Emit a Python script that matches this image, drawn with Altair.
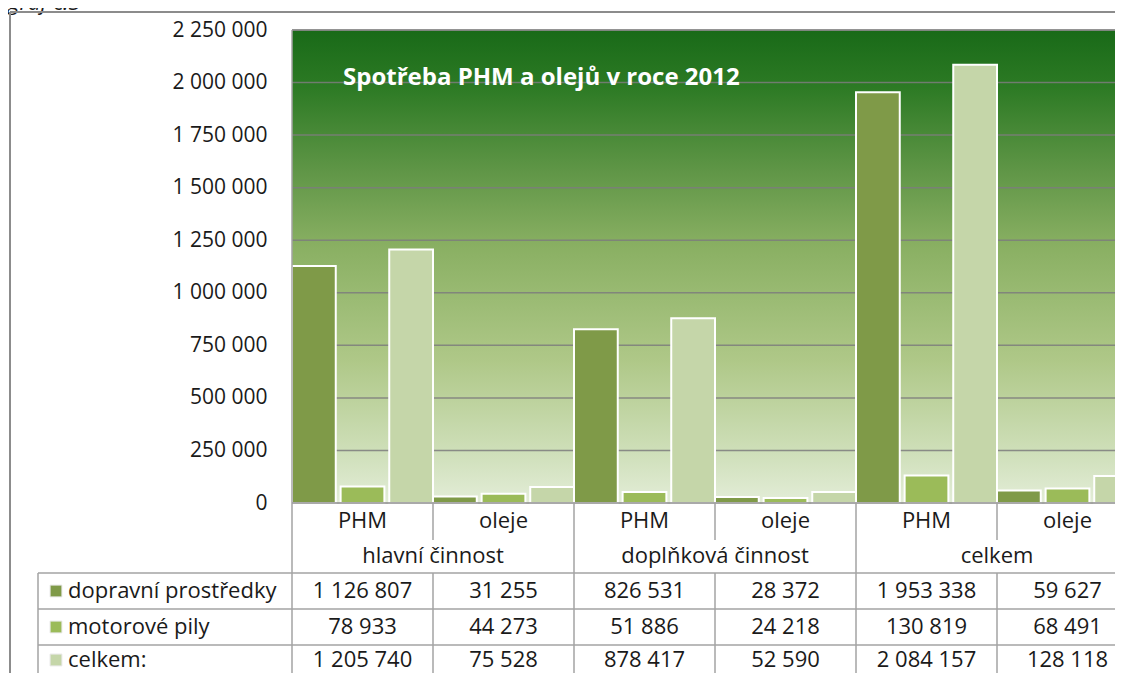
import altair as alt
import pandas as pd

# ---------------- data ----------------
groups = ["hlavní činnost", "doplňková činnost", "celkem"]
subcats = ["PHM", "oleje"]
series = ["dopravní prostředky", "motorové pily", "celkem:"]
dopravni = [1126807, 31255, 826531, 28372, 1953338, 59627]
pily = [78933, 44273, 51886, 24218, 130819, 68491]
celkem = [1205740, 75528, 878417, 52590, 2084157, 128118]
y_ticks = [0, 250000, 500000, 750000, 1000000, 1250000, 1500000, 1750000, 2000000, 2250000]
colors = ["#7f9a48", "#9bbb59", "#c5d6a9"]
title_text = "Spotřeba PHM a olejů v roce 2012"
caption_text = "graf č.3"

# ---------------- layout / style ----------------
FONT = "Open Sans"
FS = 22
W_VIEW = 823          # visible part of the plot
W_FULL = 846          # full plot width (right end cut off by the page)
H = 473
LINE = "#a3a3a3"
TXT = "#1a1a1a"

cat_ids = [f"{g}|{s}" for g in groups for s in subcats]
cat_sub = [s for g in groups for s in subcats]
XS = alt.Scale(domain=cat_ids, range=[0, W_FULL], paddingInner=0, paddingOuter=0)
YS = alt.Scale(domain=[0, 2250000], nice=False, zero=True)
Y_AXIS = alt.Axis(values=y_ticks, format=",d", grid=False, domain=False, ticks=False,
                  labelPadding=25, labelFontSize=FS - 1, labelFont=FONT, labelColor=TXT,
                  title=None)

rows = []
for si, vals in enumerate([dopravni, pily, celkem]):
    for ci, v in enumerate(vals):
        rows.append({"cat": cat_ids[ci], "series": series[si], "value": v})
bars_df = pd.DataFrame(rows)

one = pd.DataFrame({"a": [0]})

grad = {
    "gradient": "linear", "x1": 0, "y1": 0, "x2": 0, "y2": 1,
    "stops": [
        {"offset": 0.0, "color": "#196a18"},
        {"offset": 0.12, "color": "#2c7a24"},
        {"offset": 0.3, "color": "#609647"},
        {"offset": 0.46, "color": "#8ab063"},
        {"offset": 0.7, "color": "#afc888"},
        {"offset": 0.9, "color": "#d0e0bb"},
        {"offset": 1.0, "color": "#e3edd8"},
    ],
}

background = alt.Chart(one).mark_rect(color=grad).encode(
    x=alt.value(0), x2=alt.value(W_FULL), y=alt.value(0), y2=alt.value(H)
)

grid = alt.Chart(pd.DataFrame({"v": y_ticks[1:]})).mark_rule(
    color="#7d7d7d", strokeWidth=1.5, opacity=0.85
).encode(
    y=alt.Y("v:Q", scale=YS, axis=Y_AXIS), x=alt.value(0), x2=alt.value(W_FULL)
)

bars = alt.Chart(bars_df).mark_bar(stroke="white", strokeWidth=2).encode(
    x=alt.X("cat:N", scale=XS, axis=None),
    xOffset=alt.XOffset("series:N", scale=alt.Scale(domain=series, paddingInner=0.1, paddingOuter=0)),
    y=alt.Y("value:Q", scale=YS, axis=Y_AXIS),
    color=alt.Color("series:N", scale=alt.Scale(domain=series, range=colors), legend=None),
)

title = alt.Chart(one).mark_text(
    text=title_text, font=FONT, fontSize=24, fontWeight="bold", color="white",
    align="left", baseline="middle"
).encode(x=alt.value(51), y=alt.value(48))

caption = alt.Chart(one).mark_text(
    text=caption_text, font=FONT, fontSize=FS, fontStyle="italic", color=TXT,
    align="left", baseline="alphabetic"
).encode(x=alt.value(-284), y=alt.value(-20))

# ---- lines of the axis / table grid ----
hlines = []
hlines.append(alt.Chart(one).mark_rule(color="#8c8c8c", strokeWidth=1.5).encode(
    x=alt.value(0), x2=alt.value(W_FULL), y=alt.value(H)))
hlines.append(alt.Chart(one).mark_rule(color="#8c8c8c", strokeWidth=1.5).encode(
    x=alt.value(0), x2=alt.value(W_FULL), y=alt.value(0)))
for yy in [543, 579, 615]:
    hlines.append(alt.Chart(one).mark_rule(color=LINE, strokeWidth=1.5).encode(
        x=alt.value(-254), x2=alt.value(W_FULL), y=alt.value(yy)))
# outer frame
hlines.append(alt.Chart(one).mark_rule(color="#8c8c8c", strokeWidth=2).encode(
    x=alt.value(-282), x2=alt.value(W_FULL), y=alt.value(-18)))
hlines.append(alt.Chart(one).mark_rule(color="#8c8c8c", strokeWidth=2).encode(
    x=alt.value(-282), y=alt.value(-18), y2=alt.value(690)))
# table left edge
hlines.append(alt.Chart(one).mark_rule(color=LINE, strokeWidth=1.5).encode(
    x=alt.value(-254), y=alt.value(543), y2=alt.value(690)))

left_edge = alt.Chart(pd.DataFrame({"cat": [cat_ids[0]]})).mark_rule(
    color=LINE, strokeWidth=1.5).encode(
    x=alt.X("cat:N", scale=XS, axis=None, bandPosition=0), y=alt.value(0), y2=alt.value(690))

group_lines = alt.Chart(pd.DataFrame({"cat": [cat_ids[2], cat_ids[4]]})).mark_rule(
    color=LINE, strokeWidth=1.5).encode(
    x=alt.X("cat:N", scale=XS, axis=None, bandPosition=0), y=alt.value(H), y2=alt.value(690))

sub_df = pd.DataFrame({"cat": [cat_ids[1], cat_ids[3], cat_ids[5]]})
sub_lines_a = alt.Chart(sub_df).mark_rule(color=LINE, strokeWidth=1.5).encode(
    x=alt.X("cat:N", scale=XS, axis=None, bandPosition=0), y=alt.value(H), y2=alt.value(510))
sub_lines_b = alt.Chart(sub_df).mark_rule(color=LINE, strokeWidth=1.5).encode(
    x=alt.X("cat:N", scale=XS, axis=None, bandPosition=0), y=alt.value(543), y2=alt.value(690))

# ---- category labels ----
sub_labels = alt.Chart(pd.DataFrame({"cat": cat_ids, "lab": cat_sub})).mark_text(
    font=FONT, fontSize=FS, color=TXT, baseline="middle").encode(
    x=alt.X("cat:N", scale=XS, axis=None), y=alt.value(491), text="lab:N")

group_labels = alt.Chart(pd.DataFrame({"cat": [cat_ids[0], cat_ids[2], cat_ids[4]], "lab": groups})).mark_text(
    font=FONT, fontSize=FS, color=TXT, baseline="middle").encode(
    x=alt.X("cat:N", scale=XS, axis=None, bandPosition=1), y=alt.value(526), text="lab:N")

# ---- data table ----
table_layers = []
row_y = [561, 597, 630]
for si, vals in enumerate([dopravni, pily, celkem]):
    df = pd.DataFrame({"cat": cat_ids, "value": vals})
    table_layers.append(alt.Chart(df).mark_text(
        font=FONT, fontSize=FS, color=TXT, baseline="middle").encode(
        x=alt.X("cat:N", scale=XS, axis=None), y=alt.value(row_y[si]),
        text=alt.Text("value:Q", format=",d")))
    table_layers.append(alt.Chart(pd.DataFrame({"series": [series[si]]})).mark_square(
        size=140, opacity=1, stroke="#e8e8e8", strokeWidth=1).encode(
        x=alt.value(-236), y=alt.value(row_y[si]),
        color=alt.Color("series:N", scale=alt.Scale(domain=series, range=colors), legend=None)))
    table_layers.append(alt.Chart(pd.DataFrame({"series": [series[si]]})).mark_text(
        font=FONT, fontSize=FS, color=TXT, align="left", baseline="middle").encode(
        x=alt.value(-224), y=alt.value(row_y[si]), text="series:N"))

chart = alt.layer(
    background, grid, bars, title, caption, *hlines, left_edge, group_lines,
    sub_lines_a, sub_lines_b, sub_labels, group_labels, *table_layers
).properties(
    width=W_VIEW, height=H,
    autosize=alt.AutoSizeParams(type="none"),
    padding={"left": 284, "top": 22, "right": 0, "bottom": 170},
).configure_view(stroke=None).configure(
    locale={"number": {"decimal": ",", "thousands": "\u00a0", "grouping": [3], "currency": ["", " Kč"]}}
)

chart.save("out.html", embed_options={"renderer": "svg", "actions": False})
